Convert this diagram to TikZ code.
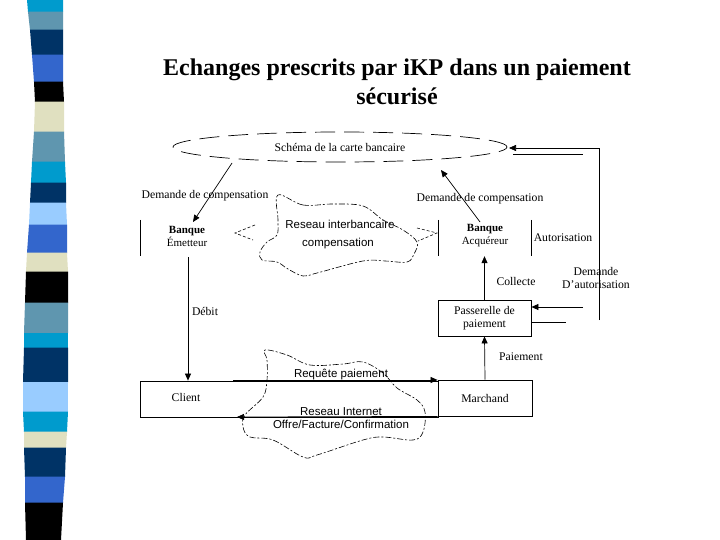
\documentclass[tikz,border=0pt]{standalone}
\usepackage{fontspec}
\setmainfont{Liberation Serif}
\newfontfamily\labfont{Liberation Sans}
\usetikzlibrary{shapes.geometric,arrows.meta,calc}
\definecolor{scyan}{RGB}{0,155,205}
\definecolor{ssteel}{RGB}{95,150,175}
\definecolor{snavy}{RGB}{0,51,102}
\definecolor{sroyal}{RGB}{51,102,204}
\definecolor{sbeige}{RGB}{224,224,192}
\definecolor{slight}{RGB}{153,204,255}
\begin{document}
\begin{tikzpicture}[x=1pt,y=-1pt,
  lab/.style={font=\fontsize{11.7}{13}\selectfont, inner sep=0pt},
  slab/.style={font=\labfont\fontsize{11.5}{13}\selectfont, inner sep=0pt},
  bank/.style={font=\fontsize{11}{13}\selectfont, align=center, inner sep=0pt},
  boxn/.style={draw, line width=0.8pt, inner sep=0pt},
  ghost/.style={inner sep=0pt},
  arr/.style={-{Triangle[length=7pt,width=6pt]}, line width=0.7pt},
  plain/.style={line width=0.7pt},
  cloud/.style={line width=0.6pt, dash pattern=on 6pt off 2pt on 2pt off 2pt},
  chev/.style={line width=0.6pt, dash pattern=on 3pt off 2pt}]
\useasboundingbox (0,0) rectangle (720,540);
\fill[white] (0,0) rectangle (720,540);
% left stripe
\foreach \ya/\yb/\la/\ra/\lb/\rb/\c in {
  0/12/27/63/28/63/scyan, 12/30/28/63/30/63/ssteel, 30/55/30/63/32/63/snavy,
  55/82/32/63/34/63/sroyal, 82/102/34/63/35/64/black, 102/132/35/64/34/64/sbeige,
  132/162/34/64/32/65/ssteel, 162/183/32/65/31/66/scyan, 183/203/31/66/30/66/snavy,
  203/225/30/66/29/67/slight, 225/253/29/67/27/67/sroyal, 253/272/27/67/26/68/sbeige,
  272/303/26/68/25/68/black, 303/333/25/68/24/68/ssteel, 333/348/24/68/24/68/scyan,
  348/382/24/68/23/68/snavy, 382/412/23/68/23/68/slight, 412/432/23/68/24/67/scyan,
  432/448/24/67/24/66/sbeige, 448/477/24/66/25/65/snavy, 477/503/25/65/25/63/sroyal,
  503/540/25/63/26/61/black}
  \fill[\c] (\la,\ya-0.3) -- (\ra,\ya-0.3) -- (\rb,\yb) -- (\lb,\yb) -- cycle;
% title
\node[font=\bfseries\fontsize{24}{29}\selectfont, align=center, inner sep=0pt] (title) at (397,82)
  {Echanges prescrits par iKP dans un paiement\\sécurisé};
% ellipse
\node[ellipse, draw, line width=0.7pt, dash pattern=on 20pt off 9pt, minimum width=334pt,
  minimum height=30pt, inner sep=0pt, lab] (ell) at (340,147)
  {Schéma de la carte bancaire};
% banks
\node[ghost, minimum width=92pt, minimum height=36pt] (bem) at (187,238) {};
\node[bank] (bemt) at (187,236) {\textbf{Banque}\\Émetteur};
\draw[plain] (bem.north west) -- (bem.south west);
\node[ghost, minimum width=92pt, minimum height=36pt] (bac) at (485,238) {};
\node[bank] (bact) at (485,236) {\textbf{Banque}\\Acquéreur};
\draw[plain] (bac.north west) -- (bac.south west);
\draw[plain] (bac.north east) -- (bac.south east);
% boxes
\node[boxn, minimum width=93pt, minimum height=36pt, lab, align=center] (pass) at (484.5,318)
  {Passerelle de\\paiement};
\node[boxn, minimum width=298pt, minimum height=36pt] (client) at (289,399) {};
\node[lab] (clientt) at (186,397) {Client};
\node[boxn, minimum width=94pt, minimum height=36pt, lab] (march) at (485,398) {Marchand};
% clouds
\draw[cloud] plot[smooth cycle, tension=0.6] coordinates {(278,195) (303,205) (333,204) (363,206) (383,220)
  (403,230) (417,242) (414,254) (407,262) (385,261) (363,261) (317,273) (303,276) (288,269) (277,262)
  (262,260) (260,252) (267,242) (277,235) (278,220)};
\draw[cloud] plot[smooth cycle, tension=0.6] coordinates {(265,350) (287,355) (310,365) (343,364) (363,362)
  (383,373) (397,388) (417,400) (425,412) (423,432) (413,440) (383,437) (363,440) (317,455) (303,457)
  (273,440) (250,437) (243,427) (245,415) (263,397) (267,380) (267,360)};
\coordinate (cl1) at (255,225); \coordinate (cl2) at (235,233); \coordinate (cl3) at (253,240);
\draw[chev] (cl1) -- (cl2) -- (cl3);
\coordinate (cr1) at (417,228); \coordinate (cr2) at (437,233); \coordinate (cr3) at (418,241);
\draw[chev] (cr1) -- (cr2) -- (cr3);
% cloud labels
\node[slab] (rib) at (340,224) {Reseau interbancaire};
\node[slab] (comp) at (338,244) {compensation};
\node[slab] (req) at (341,375) {Requête paiement};
\node[slab] (rint) at (341,412) {Reseau Internet};
\node[slab] (off) at (341,424) {Offre/Facture/Confirmation};
% demande de compensation
\coordinate (dl1) at (232,163); \coordinate (dl2) at (193,222);
\draw[arr] (dl1) -- (dl2);
\node[lab] (dcl) at (205,196) {Demande de compensation};
\coordinate (dr1) at (480,222); \coordinate (dr2) at (441,170);
\draw[arr] (dr1) -- (dr2);
\node[lab] (dcr) at (480,199) {Demande de compensation};
% debit
\coordinate (db1) at (188,257);
\draw[arr] (db1) -- (db1 |- client.north);
\node[lab] (deb) at (205,311) {Débit};
% collecte, paiement
\draw[arr] (pass.north) -- (pass.north |- bac.south);
\node[lab] (col) at (516,281) {Collecte};
\draw[arr] (march.north) -- (pass.south);
\node[lab] (pai) at (521,357) {Paiement};
% requete / offre
\coordinate (rq1) at (233,380); \coordinate (of2) at (237,417);
\draw[arr] (rq1) -- (rq1 -| march.west);
\draw[arr] (march.south west) -- (of2);
% autorisation
\node[lab] (aut) at (563,238) {Autorisation};
\coordinate (v1) at (599,320); \coordinate (v2) at (599,148); \coordinate (e1) at (509,148);
\draw[arr] (v1) -- (v2) -- (e1);
\coordinate (e2) at (513,154); \coordinate (e3) at (583,154);
\draw[plain] (e2) -- (e3);
\coordinate (p1) at (583,307); \coordinate (p3) at (566,322);
\draw[arr] (p1) -- (p1 -| pass.east);
\draw[plain] (p3 -| pass.east) -- (p3);
\node[lab, align=center] (dau) at (596,278) {Demande\\D’autorisation};
\end{tikzpicture}
\end{document}
